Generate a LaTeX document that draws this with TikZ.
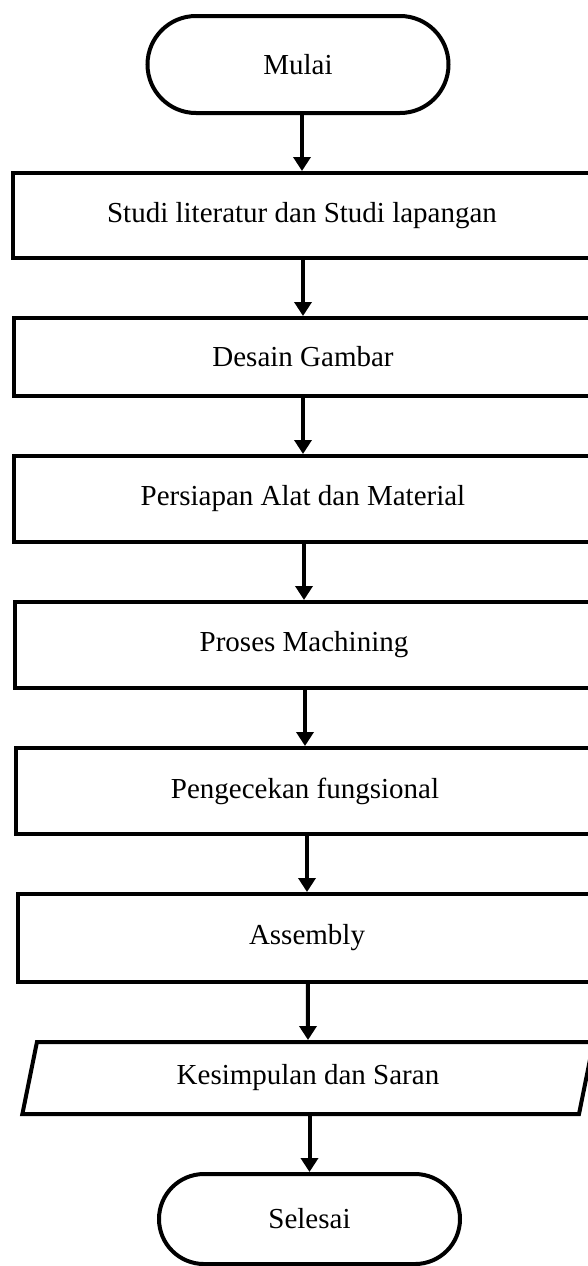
\documentclass[tikz,border=0pt]{standalone}
\usepackage{fontspec}
\setmainfont{Liberation Serif}
\usetikzlibrary{positioning,arrows.meta,shapes.geometric,shapes.misc}

\begin{document}
\begin{tikzpicture}[x=1pt, y=1pt,
  every node/.style={font=\fontsize{29}{34}\selectfont, align=center, inner sep=2pt},
  node distance=56pt,
  term/.style={draw, line width=4pt, rounded rectangle, minimum width=305pt, minimum height=97pt},
  proc/.style={draw, line width=4pt, rectangle, minimum width=578pt, minimum height=86pt},
  io/.style={draw, line width=4pt, trapezium, trapezium left angle=76.7, trapezium right angle=103.3,
    trapezium stretches=true, minimum width=572pt, minimum height=72pt},
  flow/.style={-{Triangle[length=14pt, width=17pt]}, line width=4pt}]

\useasboundingbox (0,0) rectangle (587,-1266);

\node[term] (mulai) at (298,-64.5) {Mulai};
\node[proc, below=of mulai, xshift=4pt, minimum height=85pt] (studi) {Studi literatur dan Studi lapangan};
\node[proc, below=of studi, xshift=1pt, minimum height=78pt] (desain) {Desain Gambar};
\node[proc, below=of desain] (persiapan) {Persiapan Alat dan Material};
\node[proc, below=of persiapan, xshift=1pt] (machining) {Proses Machining};
\node[proc, below=of machining, xshift=1pt] (cek) {Pengecekan fungsional};
\node[proc, below=of cek, xshift=2pt, minimum height=88pt] (assembly) {Assembly};
\node[io, below=of assembly, xshift=1pt] (saran) {Kesimpulan dan Saran};
\node[term, below=of saran, xshift=1.5pt, minimum height=90pt] (selesai) {Selesai};

\draw[flow] (mulai.south -| studi) -- (studi);
\draw[flow] (studi.south -| desain) -- (desain);
\draw[flow] (desain.south -| persiapan) -- (persiapan);
\draw[flow] (persiapan.south -| machining) -- (machining);
\draw[flow] (machining.south -| cek) -- (cek);
\draw[flow] (cek.south -| assembly) -- (assembly);
\draw[flow] (assembly.south -| saran) -- (saran);
\draw[flow] (saran.south -| selesai) -- (selesai);
\end{tikzpicture}
\end{document}
